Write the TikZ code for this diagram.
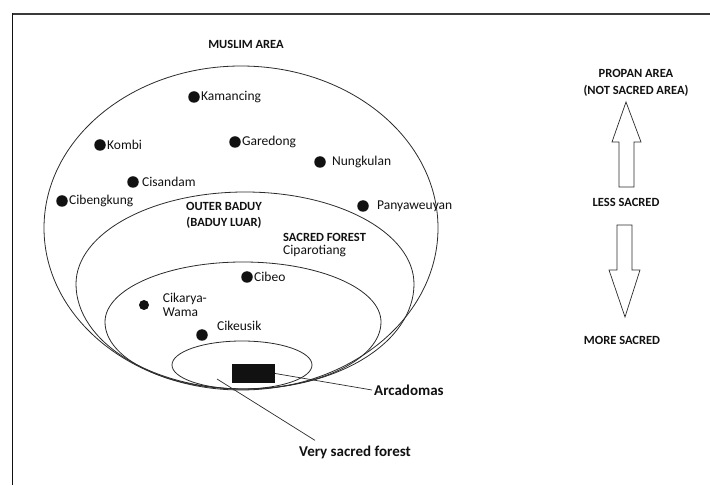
\documentclass[tikz,border=0pt]{standalone}
\usepackage{fontspec}
\setmainfont{Carlito}
\usepackage{tikz}
\usetikzlibrary{positioning,calc}
\usepackage{xcolor}
\definecolor{mpInk}{HTML}{111111}
\definecolor{mpLine}{HTML}{2B2B2B}
\definecolor{mpFrame}{HTML}{3A3A3A}
\tikzset{
  zone/.style={draw=mpLine, line width=0.8pt},
  vdot/.style={circle, fill=mpInk, inner sep=0pt, minimum size=11.5pt},
  vname/.style={font=\fontsize{13.5}{14.5}\selectfont, text=mpInk, inner sep=1pt, anchor=west},
  area/.style={font=\bfseries\fontsize{12.5}{16}\selectfont, text=mpInk, align=center, inner sep=1pt},
  callout/.style={font=\bfseries\fontsize{15}{18}\selectfont, text=mpInk, inner sep=2pt},
  pointer/.style={draw=mpLine, line width=0.7pt},
  bigarr/.style={draw=mpLine, line width=0.7pt, fill=white},
}

\begin{document}
\begin{tikzpicture}[x=1pt,y=1pt]
        \useasboundingbox (0,0) rectangle (710,485);
        % frame
        \draw[mpFrame, line width=1.3pt] (12,471) -- (710,471);
        \draw[mpInk, line width=1.4pt] (12.5,471.6) -- (12.5,0);
        % zones, outer to inner
        \draw[zone] (241,257) ellipse [x radius=197pt, y radius=162pt];
        \draw[zone] (76,201) arc [start angle=180, end angle=0, x radius=169pt, y radius=92pt]
            arc [start angle=0, end angle=-180, x radius=169pt, y radius=105pt] -- cycle;
        \draw[zone] (105,163) arc [start angle=180, end angle=0, x radius=138pt, y radius=60pt]
            arc [start angle=0, end angle=-180, x radius=138pt, y radius=67pt] -- cycle;
        \draw[zone] (242,120) ellipse [x radius=70pt, y radius=24pt];
        \node[area] (muslim) at (246,441) {MUSLIM AREA};
        % villages
        \foreach \nm/\px/\py/\gx/\gy/\ttl in {kam/194/388/0/0/Kamancing, kom/100/340/0/0/Kombi, gar/235/343/0/0/Garedong, nun/320/323/5/0/Nungkulan, cis/133/303/2/0/Cisandam, cib/62/284/0/0/Cibengkung, pan/363/279/7/0/Panyaweuyan, cbo/247/208/0/0/Cibeo, cks/202/150/8/9/Cikeusik} {
            \node[vdot] (\nm) at (\px,\py) {};
            \node[vname, xshift=\gx pt, yshift=\gy pt] (\nm-lbl) at (\nm.east) {\ttl};
        }
        \node[vdot, minimum size=10pt] (cky) at (144,180) {};
        \node[vname, align=left, xshift=12.5pt] (cky-lbl) at (cky.east) {Cikarya-\\Wama};
        % zone labels
        \node[area] (outer) at (224,270) {OUTER BADUY\\(BADUY LUAR)};
        \node[area, anchor=west] (sacred) at (282,248) {SACRED FOREST};
        \node[vname, anchor=north west, yshift=-2pt] (cipa) at (sacred.south west) {Ciparotiang};
        % core
        \node[fill=mpInk, minimum width=43pt, minimum height=19pt, inner sep=0pt] (arca) at (253.5,111.5) {};
        \node[callout, anchor=west] (arcadomas) at (372,95) {Arcadomas};
        \draw[pointer] (arca.east) -- (arcadomas.west);
        \coordinate (vsfpt) at (217,106);
        \node[callout] (vsf) at (355,33) {Very sacred forest};
        \draw[pointer] (vsfpt) -- ([xshift=18pt, yshift=3pt]vsf.north west);
        % sacredness scale
        \node[area, font=\bfseries\fontsize{12.5}{17}\selectfont] (propan) at (636,402) {PROPAN AREA\\(NOT SACRED AREA)};
        \node[area] (less) at (626,283) {LESS SACRED};
        \node[area] (more) at (622,145) {MORE SACRED};
        \draw[bigarr] (626,383) -- (641,343) -- (634,343) -- (634,298) -- (619,298) -- (619,343) -- (612,343) -- cycle;
        \draw[bigarr] (617,260) -- (632,260) -- (632,215) -- (640,215) -- (625,168) -- (609,215) -- (617,215) -- cycle;
    \end{tikzpicture}
\end{document}
